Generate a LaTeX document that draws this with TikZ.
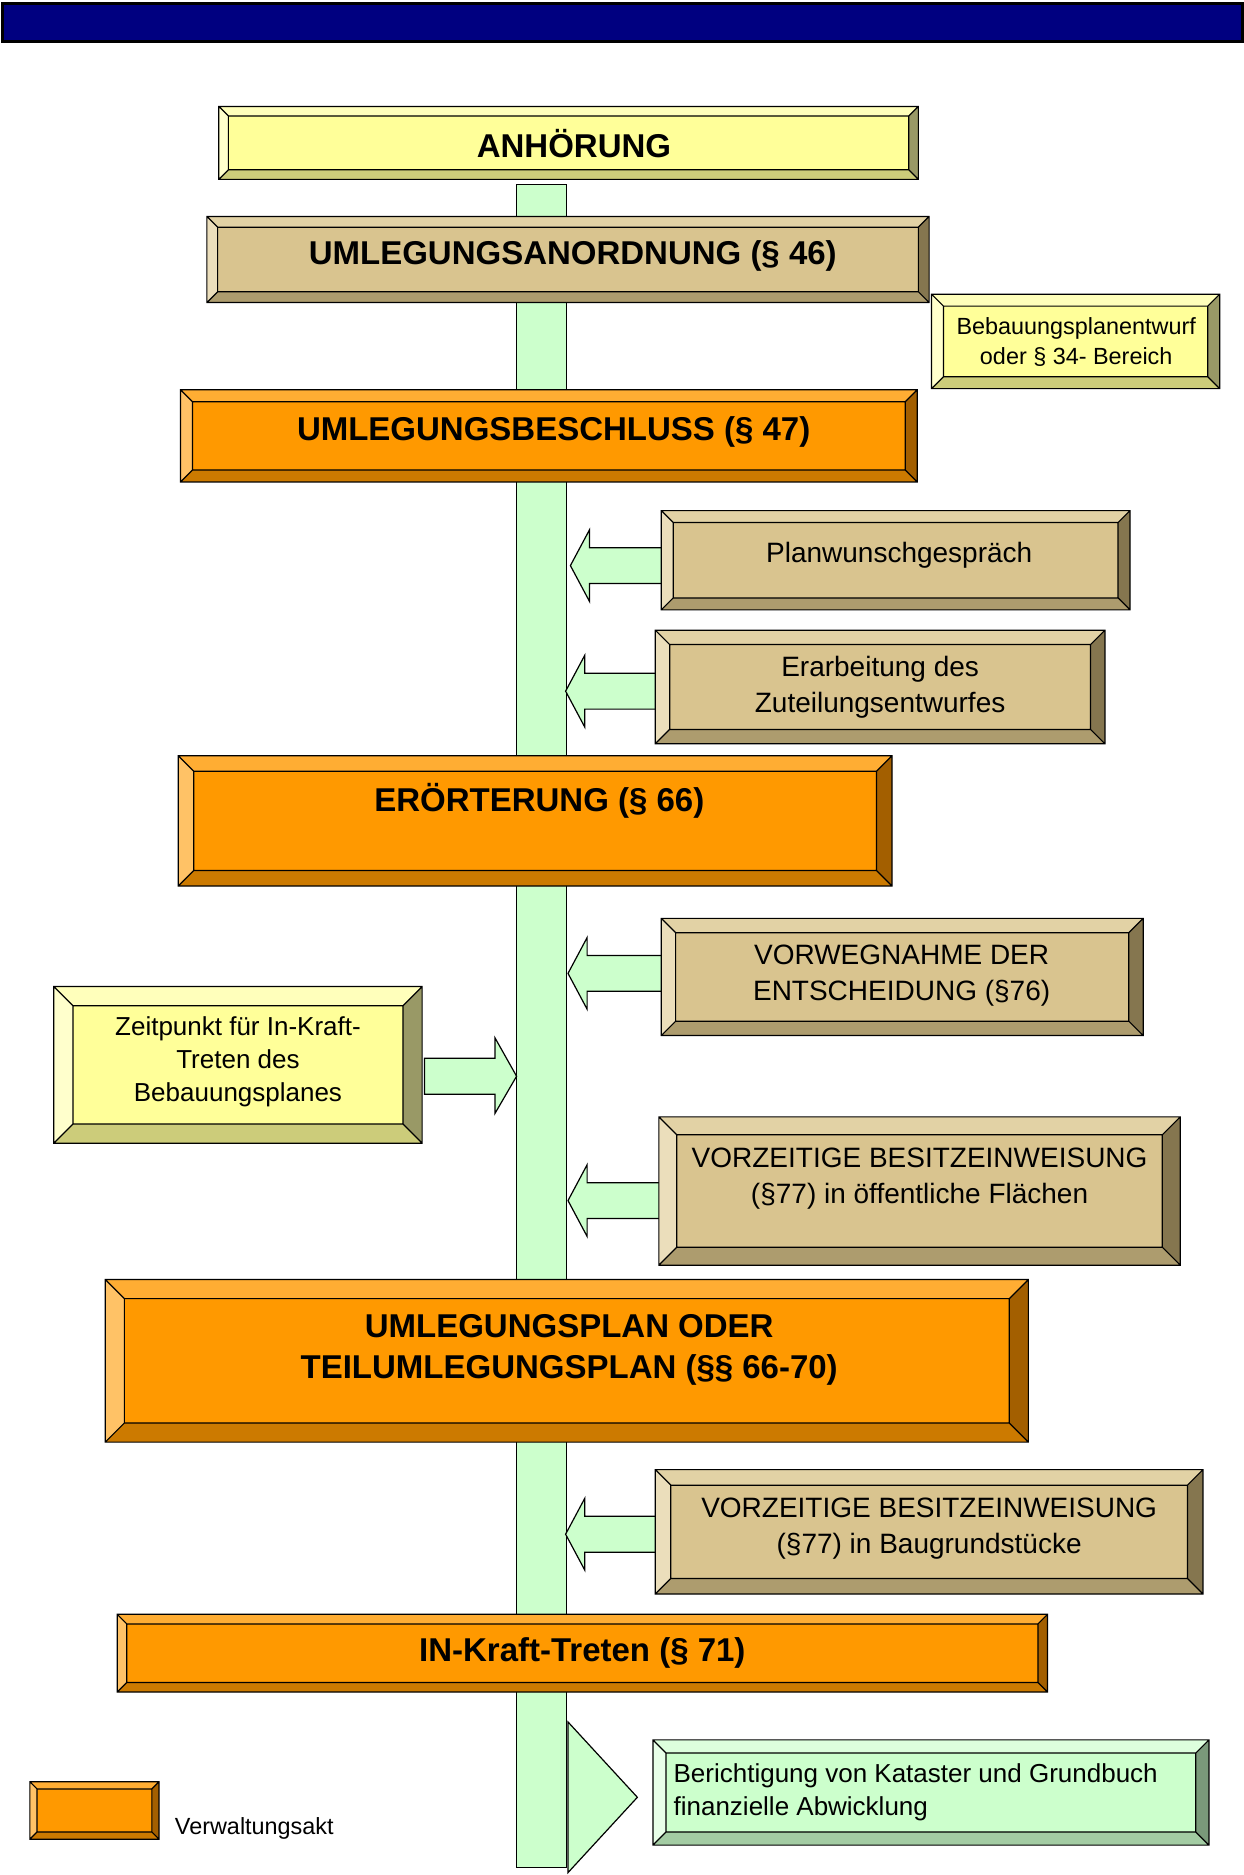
\documentclass[tikz,border=0pt]{standalone}
\usepackage{fontspec}
\setmainfont{Liberation Sans}
\usetikzlibrary{calc}
\definecolor{navybar}{RGB}{0,0,128}
\definecolor{barfill}{RGB}{204,255,204}
\definecolor{yelface}{RGB}{255,255,153}
\definecolor{yeltop}{RGB}{255,255,187}
\definecolor{yelleft}{RGB}{255,255,204}
\definecolor{yelright}{RGB}{153,153,102}
\definecolor{yelbottom}{RGB}{204,204,122}
\definecolor{tanface}{RGB}{217,196,143}
\definecolor{tantop}{RGB}{226,210,165}
\definecolor{tanleft}{RGB}{235,222,187}
\definecolor{tanright}{RGB}{133,118,79}
\definecolor{tanbottom}{RGB}{173,156,110}
\definecolor{orgface}{RGB}{255,153,0}
\definecolor{orgtop}{RGB}{255,173,51}
\definecolor{orgleft}{RGB}{255,194,102}
\definecolor{orgright}{RGB}{163,95,0}
\definecolor{orgbottom}{RGB}{204,122,0}
\definecolor{grnface}{RGB}{204,255,204}
\definecolor{grntop}{RGB}{221,255,221}
\definecolor{grnleft}{RGB}{232,255,232}
\definecolor{grnright}{RGB}{122,153,122}
\definecolor{grnbottom}{RGB}{163,204,163}

% bevelled box: palette, x1, y1, x2, y2, bevel
\newcommand{\bevbox}[6]{%
  \fill[#1face] (#2,#3) rectangle (#4,#5);
  \fill[#1top] (#2,#3) -- (#4,#3) -- (#4-#6,#3+#6) -- (#2+#6,#3+#6) -- cycle;
  \fill[#1left] (#2,#3) -- (#2+#6,#3+#6) -- (#2+#6,#5-#6) -- (#2,#5) -- cycle;
  \fill[#1right] (#4,#3) -- (#4,#5) -- (#4-#6,#5-#6) -- (#4-#6,#3+#6) -- cycle;
  \fill[#1bottom] (#2,#5) -- (#4,#5) -- (#4-#6,#5-#6) -- (#2+#6,#5-#6) -- cycle;
  \draw[boxline] (#2,#3) rectangle (#4,#5) (#2+#6,#3+#6) rectangle (#4-#6,#5-#6)
    (#2,#3) -- ++(#6,#6) (#4,#3) -- ++(-#6,#6) (#4,#5) -- ++(-#6,-#6) (#2,#5) -- ++(#6,-#6);
}
% block arrow to the left: y, tip x, tail x
\newcommand{\pointleft}[3]{%
  \filldraw[blockarrow] (#2,#1) -- (#2+16,#1-30) -- (#2+16,#1-15) -- (#3,#1-15)
    -- (#3,#1+15) -- (#2+16,#1+15) -- (#2+16,#1+30) -- cycle;
}

\tikzset{
  boxline/.style={draw=black, line width=0.6pt},
  blockarrow/.style={fill=barfill, draw=black, line width=0.6pt},
  titletxt/.style={font=\fontsize{16.5}{20.3}\selectfont\bfseries, align=center, inner sep=0pt},
  steptxt/.style={font=\fontsize{14}{18}\selectfont, align=center, inner sep=0pt},
  smalltxt/.style={font=\fontsize{11.7}{14.8}\selectfont, align=center, inner sep=0pt},
}

\begin{document}
\begin{tikzpicture}[x=0.598pt, y=-0.598pt]
  \useasboundingbox (0,0) rectangle (1040,1568);

  % title bar
  \draw[fill=navybar, line width=1.5pt] (2,3) rectangle (1039,35);

  % central bar
  \draw[fill=barfill, boxline] (432,154) rectangle (474,1562);

  % side arrows
  \pointleft{473}{477}{560}
  \pointleft{578}{473}{555}
  \pointleft{814}{475}{560}
  \pointleft{1004}{475}{558}
  \pointleft{1283}{473}{555}
  \filldraw[blockarrow] (432,900) -- (414,868) -- (414,885) -- (355,885)
    -- (355,915) -- (414,915) -- (414,931) -- cycle;
  \filldraw[blockarrow] (475,1440) -- (533,1503) -- (475,1566) -- cycle;

  % boxes
  \bevbox{yel}{183}{89}{768}{150}{8}
  \node[titletxt] (anhoerung) at (480,120) {ANHÖRUNG};

  \bevbox{tan}{173}{181}{777}{253}{9}
  \node[titletxt] (anordnung) at (479,214) {UMLEGUNGSANORDNUNG (§ 46)};

  \bevbox{yel}{779}{246}{1020}{325}{10}
  \node[smalltxt] (bebauung) at (900,286) {Bebauungsplanentwurf\\oder § 34- Bereich};

  \bevbox{org}{151}{326}{767}{403}{10}
  \node[titletxt] (beschluss) at (463,361) {UMLEGUNGSBESCHLUSS (§ 47)};

  \bevbox{tan}{553}{427}{945}{510}{10}
  \node[steptxt] (planwunsch) at (752,464) {Planwunschgespräch};

  \bevbox{tan}{548}{527}{924}{622}{12}
  \node[steptxt] (erarbeitung) at (736,575) {Erarbeitung des\\Zuteilungsentwurfes};

  \bevbox{org}{149}{632}{746}{741}{13}
  \node[titletxt] (eroerterung) at (451,670) {ERÖRTERUNG (§ 66)};

  \bevbox{tan}{553}{768}{956}{866}{12}
  \node[steptxt] (vorwegnahme) at (754,816) {VORWEGNAHME DER\\ENTSCHEIDUNG (§76)};

  \bevbox{yel}{45}{825}{353}{956}{16}
  \node[steptxt, font=\fontsize{13}{16.7}\selectfont] (zeitpunkt) at (199,888)
    {Zeitpunkt für In-Kraft-\\Treten des\\Bebauungsplanes};

  \bevbox{tan}{551}{934}{987}{1058}{15}
  \node[steptxt] (besitz1) at (769,986) {VORZEITIGE BESITZEINWEISUNG\\(§77) in öffentliche Flächen};

  \bevbox{org}{88}{1070}{860}{1206}{16}
  \node[titletxt] (umlegungsplan) at (476,1129) {UMLEGUNGSPLAN ODER\\TEILUMLEGUNGSPLAN (§§ 66-70)};

  \bevbox{tan}{548}{1229}{1006}{1333}{13}
  \node[steptxt] (besitz2) at (777,1278) {VORZEITIGE BESITZEINWEISUNG\\(§77) in Baugrundstücke};

  \bevbox{org}{98}{1350}{876}{1415}{8}
  \node[titletxt] (inkraft) at (487,1382) {IN-Kraft-Treten (§ 71)};

  \bevbox{grn}{546}{1455}{1011}{1543}{11}
  \node[steptxt, font=\fontsize{13}{16.5}\selectfont, align=left, anchor=west] (berichtigung)
    at (563,1499) {Berichtigung von Kataster und Grundbuch\\finanzielle Abwicklung};

  % legend
  \bevbox{org}{25}{1490}{133}{1538}{6}
  \node[smalltxt, anchor=west] (legende) at (146,1529) {Verwaltungsakt};
\end{tikzpicture}
\end{document}
